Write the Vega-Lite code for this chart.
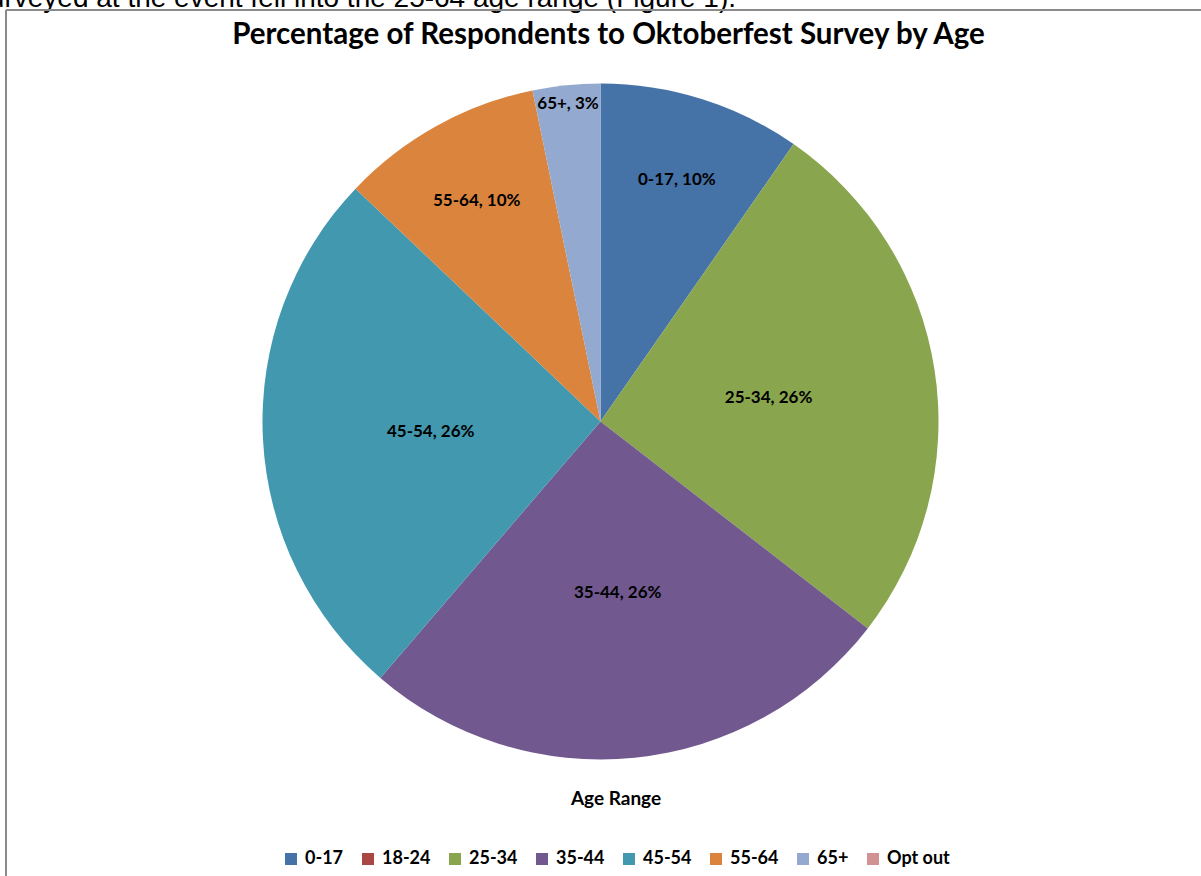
{
  "$schema": "https://vega.github.io/schema/vega-lite/v6.json",
  "width": 1189,
  "height": 823,
  "autosize": {"type": "none"},
  "padding": {"left": 6, "top": 10, "right": 6, "bottom": 43},
  "background": "white",
  "title": {
    "text": "Percentage of Respondents to Oktoberfest Survey by Age",
    "font": "Lato", "fontSize": 29.5, "fontWeight": "bold", "color": "#000",
    "anchor": "middle", "offset": -46, "dx": 8, "dy": 19
  },
  "config": {"view": {"stroke": null}},
  "data": {"values": [
    {"age": "0-17", "count": 3, "label": "0-17, 10%"},
    {"age": "18-24", "count": 0, "label": "18-24, 0%"},
    {"age": "25-34", "count": 8, "label": "25-34, 26%"},
    {"age": "35-44", "count": 8, "label": "35-44, 26%"},
    {"age": "45-54", "count": 8, "label": "45-54, 26%"},
    {"age": "55-64", "count": 3, "label": "55-64, 10%"},
    {"age": "65+", "count": 1, "label": "65+, 3%"},
    {"age": "Opt out", "count": 0, "label": "Opt out, 0%"}
  ]},
  "layer": [
    {
      "mark": {"type": "arc", "outerRadius": 338, "stroke": null},
      "encoding": {
        "theta": {"field": "count", "type": "quantitative", "stack": true},
        "color": {
          "field": "age", "type": "nominal",
          "scale": {
            "domain": ["0-17", "18-24", "25-34", "35-44", "45-54", "55-64", "65+", "Opt out"],
            "range": ["#4572A7", "#AA4643", "#89A54E", "#71588F", "#4198AF", "#DB843D", "#93A9CF", "#D19392"]
          },
          "legend": {
            "title": "Age Range",
            "orient": "none", "legendX": 276, "legendY": 780,
            "direction": "horizontal", "columns": 8,
            "symbolType": "square", "symbolSize": 144, "symbolStrokeWidth": 0,
            "labelFont": "Lato", "labelFontWeight": "bold", "labelFontSize": 18, "labelColor": "#000",
            "titleFont": "Lato", "titleFontWeight": "bold", "titleFontSize": 19, "titleColor": "#000",
            "titleAnchor": "middle", "titlePadding": 41, "columnPadding": 15, "labelOffset": 5
          }
        }
      }
    },
    {
      "mark": {"type": "text", "radius": 170, "font": "Lato", "fontWeight": "bold", "fontSize": 17, "color": "#000", "dy": 2},
      "encoding": {
        "theta": {"field": "count", "type": "quantitative", "stack": true},
        "text": {"condition": {"test": "datum.count == 8", "field": "label"}, "value": ""}
      }
    },
    {
      "mark": {"type": "text", "radius": 255, "font": "Lato", "fontWeight": "bold", "fontSize": 17, "color": "#000", "dy": 2},
      "encoding": {
        "theta": {"field": "count", "type": "quantitative", "stack": true},
        "text": {"condition": {"test": "datum.count == 3", "field": "label"}, "value": ""}
      }
    },
    {
      "mark": {"type": "text", "radius": 321, "font": "Lato", "fontWeight": "bold", "fontSize": 17, "color": "#000", "dy": 2},
      "encoding": {
        "theta": {"field": "count", "type": "quantitative", "stack": true},
        "text": {"condition": {"test": "datum.count == 1", "field": "label"}, "value": ""}
      }
    },
    {
      "data": {"values": [{"note": "surveyed at the event fell into the 25-64 age range (Figure 1)."}]},
      "mark": {"type": "text", "align": "right", "baseline": "alphabetic", "font": "Liberation Sans", "fontSize": 28, "color": "#000"},
      "encoding": {
        "text": {"field": "note"},
        "x": {"value": 730},
        "y": {"value": -3}
      }
    },
    {
      "data": {"values": [{"edge": "top"}]},
      "mark": {"type": "rule", "color": "#8a8a8a", "strokeWidth": 2},
      "encoding": {"x": {"value": 0}, "x2": {"value": 1210}, "y": {"value": 0}}
    },
    {
      "data": {"values": [{"edge": "left"}]},
      "mark": {"type": "rule", "color": "#8a8a8a", "strokeWidth": 2},
      "encoding": {"x": {"value": 0}, "y": {"value": 0}, "y2": {"value": 880}}
    }
  ]
}
